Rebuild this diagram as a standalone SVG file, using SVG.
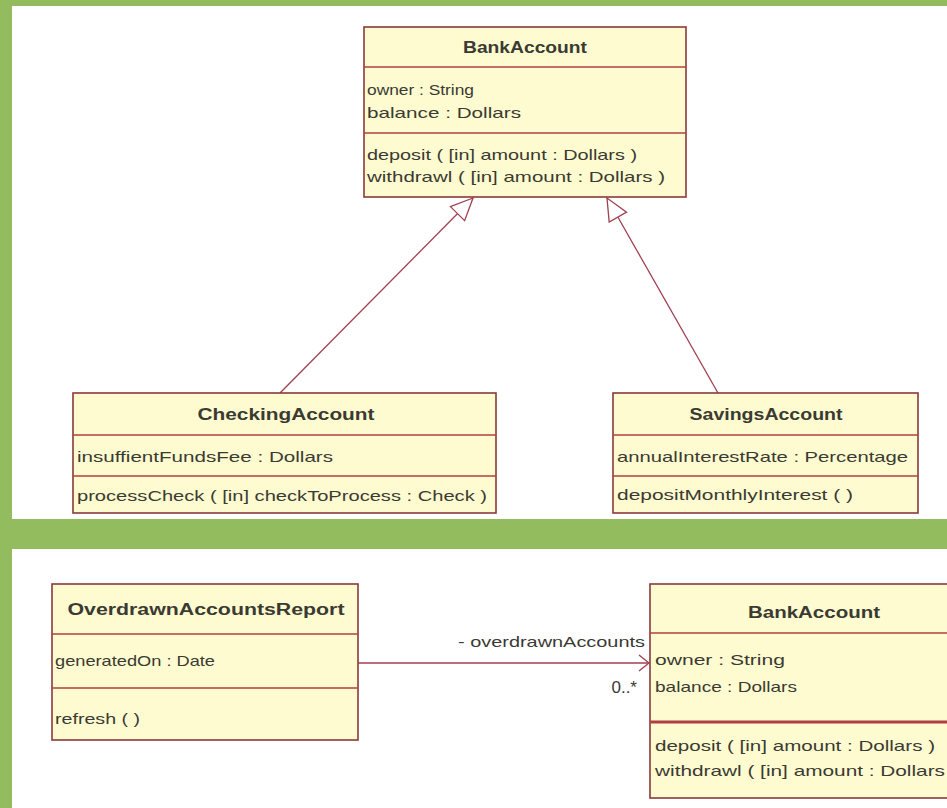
<svg xmlns="http://www.w3.org/2000/svg" width="947" height="808" viewBox="0 0 947 808">
<defs>
<style>
.box{fill:#fefbd0;stroke:#8a3a3a;stroke-width:1.6}
.div{stroke:#b04040;stroke-width:1.4}
.t{font-family:"Liberation Sans",Arial,sans-serif;font-size:15px;fill:#3a3a32}
.b{font-weight:bold;text-anchor:middle;font-size:16px}
.ln{stroke:#a04050;stroke-width:1.3;fill:none}
</style>
<marker id="gen" viewBox="0 0 24 22" refX="23" refY="11" markerWidth="24" markerHeight="22" markerUnits="userSpaceOnUse" orient="auto">
<path d="M1,1 L23,11 L1,21 Z" fill="#fff" stroke="#a04050" stroke-width="1.3"/>
</marker>
<marker id="open" viewBox="0 0 12 18" refX="11" refY="9" markerWidth="12" markerHeight="18" markerUnits="userSpaceOnUse" orient="auto">
<path d="M1,1 L11,9 L1,17" fill="none" stroke="#a04050" stroke-width="1.4"/>
</marker>
</defs>
<rect width="947" height="808" fill="#ffffff"/>
<rect x="0" y="0" width="947" height="6" fill="#93bc5e"/>
<rect x="0" y="0" width="12" height="808" fill="#93bc5e"/>
<rect x="0" y="519" width="947" height="30" fill="#93bc5e"/>

<g id="connectors">
<line class="ln" x1="280" y1="393" x2="473" y2="198" marker-end="url(#gen)"/>
<line class="ln" x1="718" y1="393" x2="607" y2="198" marker-end="url(#gen)"/>
<line class="ln" x1="358" y1="663" x2="649" y2="663" marker-end="url(#open)"/>
<text class="t" x="645" y="647" text-anchor="end" textLength="187" lengthAdjust="spacingAndGlyphs">- overdrawnAccounts</text>
<text class="t" x="637" y="693" text-anchor="end" style="font-size:17px">0..*</text>
</g>

<g id="bankaccount-top">
<rect class="box" x="364" y="27" width="322" height="170"/>
<line class="div" x1="364" y1="67" x2="686" y2="67"/>
<line class="div" x1="364" y1="133" x2="686" y2="133"/>
<text class="t b" x="525" y="53" textLength="124" lengthAdjust="spacingAndGlyphs">BankAccount</text>
<text class="t" x="367" y="95" textLength="107" lengthAdjust="spacingAndGlyphs">owner : String</text>
<text class="t" x="367" y="118" textLength="154" lengthAdjust="spacingAndGlyphs">balance : Dollars</text>
<text class="t" x="367" y="160" textLength="270" lengthAdjust="spacingAndGlyphs">deposit ( [in] amount : Dollars )</text>
<text class="t" x="367" y="182" textLength="298" lengthAdjust="spacingAndGlyphs">withdrawl ( [in] amount : Dollars )</text>
</g>

<g id="checkingaccount">
<rect class="box" x="73" y="393" width="423" height="120"/>
<line class="div" x1="73" y1="435" x2="496" y2="435"/>
<line class="div" x1="73" y1="476" x2="496" y2="476"/>
<text class="t b" x="286" y="420" style="font-size:17px" textLength="177" lengthAdjust="spacingAndGlyphs">CheckingAccount</text>
<text class="t" x="77" y="462" textLength="256" lengthAdjust="spacingAndGlyphs">insuffientFundsFee : Dollars</text>
<text class="t" x="77" y="501" textLength="410" lengthAdjust="spacingAndGlyphs">processCheck ( [in] checkToProcess : Check )</text>
</g>

<g id="savingsaccount">
<rect class="box" x="613" y="393" width="305" height="120"/>
<line class="div" x1="613" y1="435" x2="918" y2="435"/>
<line class="div" x1="613" y1="476" x2="918" y2="476"/>
<text class="t b" x="766" y="420" style="font-size:17px" textLength="153" lengthAdjust="spacingAndGlyphs">SavingsAccount</text>
<text class="t" x="617" y="462" textLength="291" lengthAdjust="spacingAndGlyphs">annualInterestRate : Percentage</text>
<text class="t" x="617" y="500" textLength="236" lengthAdjust="spacingAndGlyphs">depositMonthlyInterest ( )</text>
</g>

<g id="overdrawnaccountsreport">
<rect class="box" x="52" y="584" width="306" height="156"/>
<line class="div" x1="52" y1="634" x2="358" y2="634"/>
<line class="div" x1="52" y1="688" x2="358" y2="688"/>
<text class="t b" x="206" y="615" textLength="277" lengthAdjust="spacingAndGlyphs">OverdrawnAccountsReport</text>
<text class="t" x="55" y="666" textLength="160" lengthAdjust="spacingAndGlyphs">generatedOn : Date</text>
<text class="t" x="55" y="724" textLength="85" lengthAdjust="spacingAndGlyphs">refresh ( )</text>
</g>

<g id="bankaccount-bottom">
<rect class="box" x="650" y="584" width="340" height="214"/>
<line class="div" x1="650" y1="633" x2="990" y2="633"/>
<line class="div" x1="650" y1="722" x2="990" y2="722" style="stroke-width:3"/>
<text class="t b" x="814" y="618" textLength="132" lengthAdjust="spacingAndGlyphs">BankAccount</text>
<text class="t" x="655" y="665" textLength="130" lengthAdjust="spacingAndGlyphs">owner : String</text>
<text class="t" x="655" y="692" textLength="142" lengthAdjust="spacingAndGlyphs">balance : Dollars</text>
<text class="t" x="655" y="751" textLength="280" lengthAdjust="spacingAndGlyphs">deposit ( [in] amount : Dollars )</text>
<text class="t" x="655" y="776" textLength="290" lengthAdjust="spacingAndGlyphs">withdrawl ( [in] amount : Dollars</text>
</g>
</svg>
